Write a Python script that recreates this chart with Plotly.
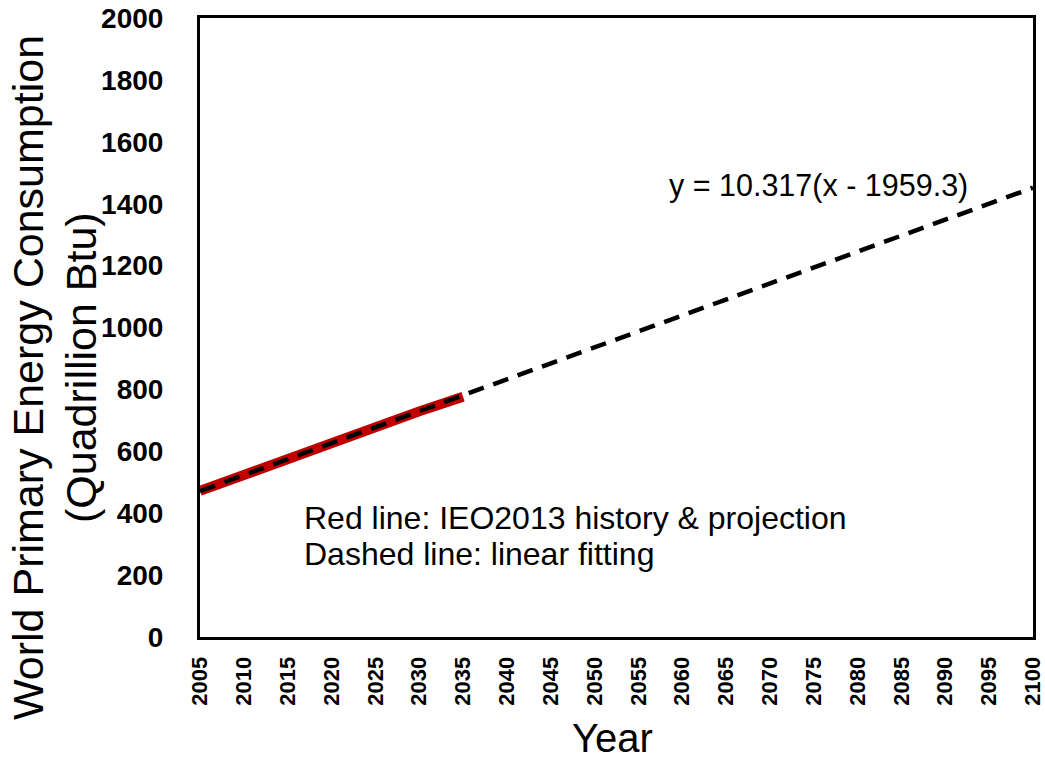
import plotly.graph_objects as go

# IEO2013 world primary energy consumption, history & projection (quadrillion Btu)
years = [2005, 2010, 2015, 2020, 2025, 2030, 2035]
consumption = [472, 524, 572, 630, 678, 729, 776]

# linear fit y = slope * (x - x0)
fit_slope = 10.317
fit_x0 = 1959.3
fit_years = [2005, 2100]
fit_values = [fit_slope * (x - fit_x0) for x in fit_years]

x_ticks = list(range(2005, 2101, 5))
y_ticks = list(range(0, 2001, 200))

FONT = "Liberation Sans, Arial, sans-serif"

fig = go.Figure()
fig.add_trace(go.Scatter(
    x=years, y=consumption, mode="lines",
    line=dict(color="#C00000", width=10),
    showlegend=False, hoverinfo="skip",
))
fig.add_trace(go.Scatter(
    x=fit_years, y=fit_values, mode="lines",
    line=dict(color="black", width=4.5, dash="16px,10px"),
    showlegend=False, hoverinfo="skip",
))

# plot area spans 200..1033 px horizontally, 18..637 px vertically
L, R, T, B = 200, 12, 18, 125
W, H = 1045, 762
pw = W - L - R
ph = H - T - B


def px_x(p):
    return (p - L) / pw


def px_y(p):
    return (H - B - p) / ph


annotations = [
    dict(text="World Primary Energy Consumption", x=px_x(28), y=px_y(378),
         textangle=-90, font=dict(size=43, family=FONT, color="black")),
    dict(text="(Quadrillion Btu)", x=px_x(81), y=px_y(368),
         textangle=-90, font=dict(size=43, family=FONT, color="black")),
    dict(text="Year", x=px_x(612), y=px_y(738),
         font=dict(size=40, family=FONT, color="black")),
    dict(text="y = 10.317(x - 1959.3)", x=px_x(667), y=px_y(186),
         xanchor="left", font=dict(size=30.5, family=FONT, color="black")),
    dict(text="Red line: IEO2013 history &amp; projection", x=px_x(302), y=px_y(518),
         xanchor="left", font=dict(size=32, family=FONT, color="black")),
    dict(text="Dashed line: linear fitting", x=px_x(302), y=px_y(554),
         xanchor="left", font=dict(size=32, family=FONT, color="black")),
]
for a in annotations:
    a.update(xref="paper", yref="paper", showarrow=False, yanchor="middle")
    a.setdefault("xanchor", "center")

fig.update_layout(
    width=W, height=H,
    margin=dict(l=L, r=R, t=T, b=B, autoexpand=False),
    paper_bgcolor="white", plot_bgcolor="white",
    annotations=annotations,
    xaxis=dict(
        range=[2005, 2100], tickvals=x_ticks, ticktext=[str(v) for v in x_ticks],
        tickangle=-90, showgrid=False, zeroline=False, automargin=False,
        ticklabeloverflow="allow",
        showline=True, mirror=True, linecolor="black", linewidth=3,
        ticks="", ticklabelstandoff=8,
        tickfont=dict(size=22, family=FONT, color="black", weight="bold"),
    ),
    yaxis=dict(
        range=[0, 2000], tickvals=y_ticks, showgrid=False, zeroline=False,
        automargin=False, ticklabeloverflow="allow",
        showline=True, mirror=True, linecolor="black", linewidth=3,
        ticks="", ticklabelstandoff=28,
        tickfont=dict(size=28, family=FONT, color="black", weight="bold"),
    ),
)

fig.write_html("out.html")
